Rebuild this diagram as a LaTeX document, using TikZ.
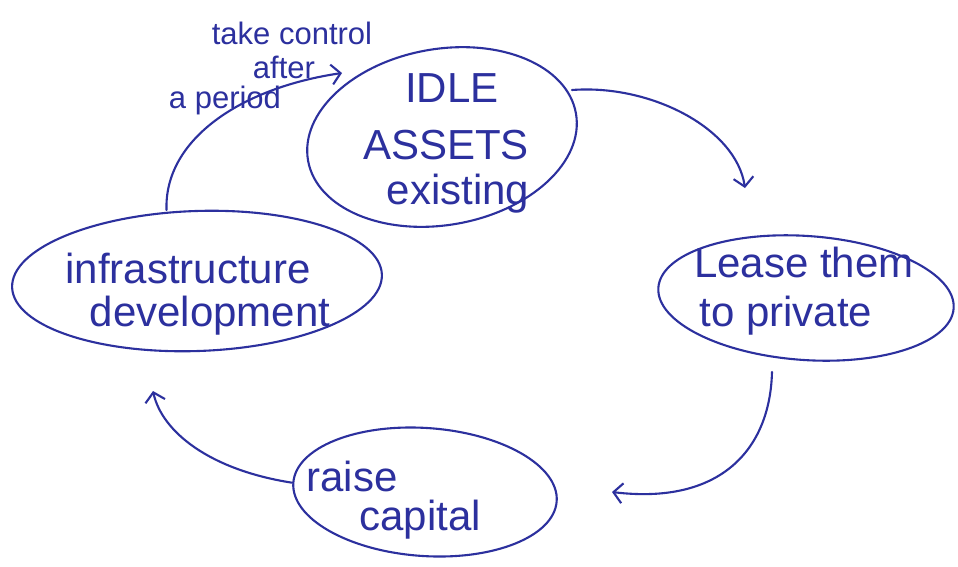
\documentclass[tikz,border=0pt]{standalone}
\usepackage{fontspec}
\setmainfont{Liberation Sans}
\usetikzlibrary{shapes.geometric,arrows.meta}
\definecolor{ink}{RGB}{44,48,158}
\tikzset{
  bubble/.style={draw=ink, line width=2.1pt, ellipse, inner sep=0pt},
  word/.style={text=ink, inner sep=0pt, anchor=center},
  big/.style={word, font=\fontsize{42}{42}\selectfont},
  small/.style={word, font=\fontsize{31}{31}\selectfont},
  flow/.style={draw=ink, line width=2.1pt, line cap=round,
    -{Straight Barb[length=9pt,width=20pt,line width=2.1pt]}}
}
\begin{document}
\begin{tikzpicture}[x=1pt,y=-1pt]
\fill[white] (0,0) rectangle (958,566);
\useasboundingbox (0,0) rectangle (958,566);

% the four stages of the cycle
\node[bubble, minimum width=272pt, minimum height=176pt, rotate=10] (idle) at (442,137) {};
\node[bubble, minimum width=296pt, minimum height=124pt, rotate=-4] (lease) at (806,298) {};
\node[bubble, minimum width=264pt, minimum height=128pt, rotate=-4] (raise) at (425,492) {};
\node[bubble, minimum width=370pt, minimum height=140pt, rotate=2] (infra) at (197,281) {};

% stage labels
\node[big] (t1) at (452,88) {IDLE};
\node[big] (t2) at (446,145) {ASSETS};
\node[big] (t3) at (458,194) {existing};
\node[big] (t4) at (804,262) {Lease them};
\node[big] (t5) at (786,316) {to private};
\node[big] (t6) at (352,476) {raise};
\node[big] (t7) at (420,520) {capital};
\node[big] (t8) at (188,268) {infrastructure};
\node[big] (t9) at (210,316) {development};

% note on the returning arrow
\node[small] (n1) at (292,33) {take control};
\node[small] (n2) at (284,67) {after};
\node[small] (n3) at (225,100) {a period};

% loose arrow ends
\coordinate (e1) at (342,73);
\coordinate (e2) at (745,188);
\coordinate (e3) at (612,492);
\coordinate (e4) at (153,391);
\coordinate (s2) at (572,90);
\coordinate (s3) at (772,372);

% connectors
\draw[flow] (infra.north) ++(-28,0) coordinate (s1) .. controls (164,140) and (240,88) .. (e1);
\draw[flow] (s2) .. controls (650,84) and (736,128) .. (e2);
\draw[flow] (s3) .. controls (770,450) and (720,505) .. (e3);
\draw[flow] (raise.west) .. controls (210,470) and (162,432) .. (e4);
\end{tikzpicture}
\end{document}
